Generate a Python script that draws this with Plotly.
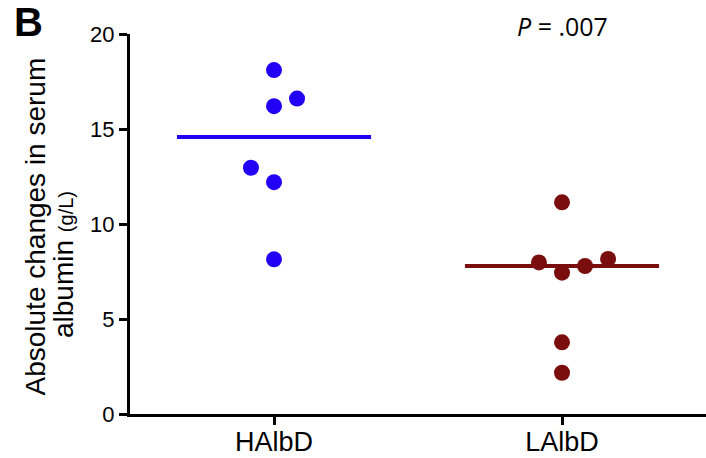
import numpy as np
import plotly.graph_objects as go

categories = ["HAlbD", "LAlbD"]
halbd_values = [18.1, 16.6, 16.2, 12.96, 12.2, 8.14]
halbd_jitter = [0.0, 0.08, 0.0, -0.08, 0.0, 0.0]
lalbd_values = [11.14, 7.98, 7.44, 7.79, 8.16, 3.77, 2.17]
lalbd_jitter = [0.0, -0.08, 0.0, 0.08, 0.16, 0.0, 0.0]
y_ticks = [0, 5, 10, 15, 20]
p_label = "<i>P</i> = .007"
y_title_1 = "Absolute changes in serum"
y_title_2 = "albumin <span style='font-size:20px'>(g/L)</span>"

blue = "#2200F5"
red = "#7A0E0E"
font = "Liberation Sans, Arial, sans-serif"

W, H = 706, 458
L, R, T, B = 130, 0, 34, 44
PW, PH = W - L - R, H - T - B


def px(x):
    return (x - L) / PW


def py(y):
    return (H - B - y) / PH


fig = go.Figure()
groups = [(halbd_values, halbd_jitter, blue), (lalbd_values, lalbd_jitter, red)]
for i, (vals, jit, col) in enumerate(groups):
    xc = i + 1
    med = float(np.median(vals))
    fig.add_trace(go.Scatter(x=[xc - 0.337, xc + 0.337], y=[med, med], mode="lines",
                             line=dict(color=col, width=4), showlegend=False, hoverinfo="skip"))
    fig.add_trace(go.Scatter(x=[xc + j for j in jit], y=vals, mode="markers",
                             marker=dict(color=col, size=16, line=dict(width=0)),
                             showlegend=False, cliponaxis=False))

fig.update_layout(
    width=W, height=H,
    margin=dict(l=L, r=R, t=T, b=B, autoexpand=False),
    paper_bgcolor="white", plot_bgcolor="white",
    font=dict(family=font, size=22, color="black"),
    xaxis=dict(range=[0.5, 2.5], tickmode="array", tickvals=[1, 2], ticktext=categories,
               showline=True, linecolor="black", linewidth=3, ticks="outside", ticklen=8,
               tickwidth=3, tickcolor="black", showgrid=False, zeroline=False, automargin=False,
               ticklabelstandoff=-6, tickfont=dict(size=27, family=font)),
    yaxis=dict(range=[0, 20], tickvals=y_ticks, showline=True, linecolor="black", linewidth=3,
               ticks="outside", ticklen=8, tickwidth=3, tickcolor="black", showgrid=False,
               zeroline=False, automargin=False, tickfont=dict(size=22, family=font)),
)
fig.add_annotation(text="<b>B</b>", xref="paper", yref="paper", x=px(12), y=py(-2),
                   xanchor="left", yanchor="top", showarrow=False, font=dict(size=40, family=font))
fig.add_annotation(text=p_label, xref="x", yref="paper", x=2, y=py(26),
                   xanchor="center", yanchor="middle", showarrow=False,
                   font=dict(size=25, family="Open Sans, sans-serif"))
fig.add_annotation(text=y_title_1, xref="paper", yref="paper", x=px(17), y=py(227),
                   xanchor="left", yanchor="middle", textangle=-90, showarrow=False,
                   font=dict(size=28, family=font))
fig.add_annotation(text=y_title_2, xref="paper", yref="paper", x=px(46), y=py(340),
                   xanchor="left", yanchor="bottom", textangle=-90, showarrow=False,
                   font=dict(size=28, family=font))

fig.write_html("out.html", config={"displayModeBar": False},
               post_script="document.body.style.margin='0';")
